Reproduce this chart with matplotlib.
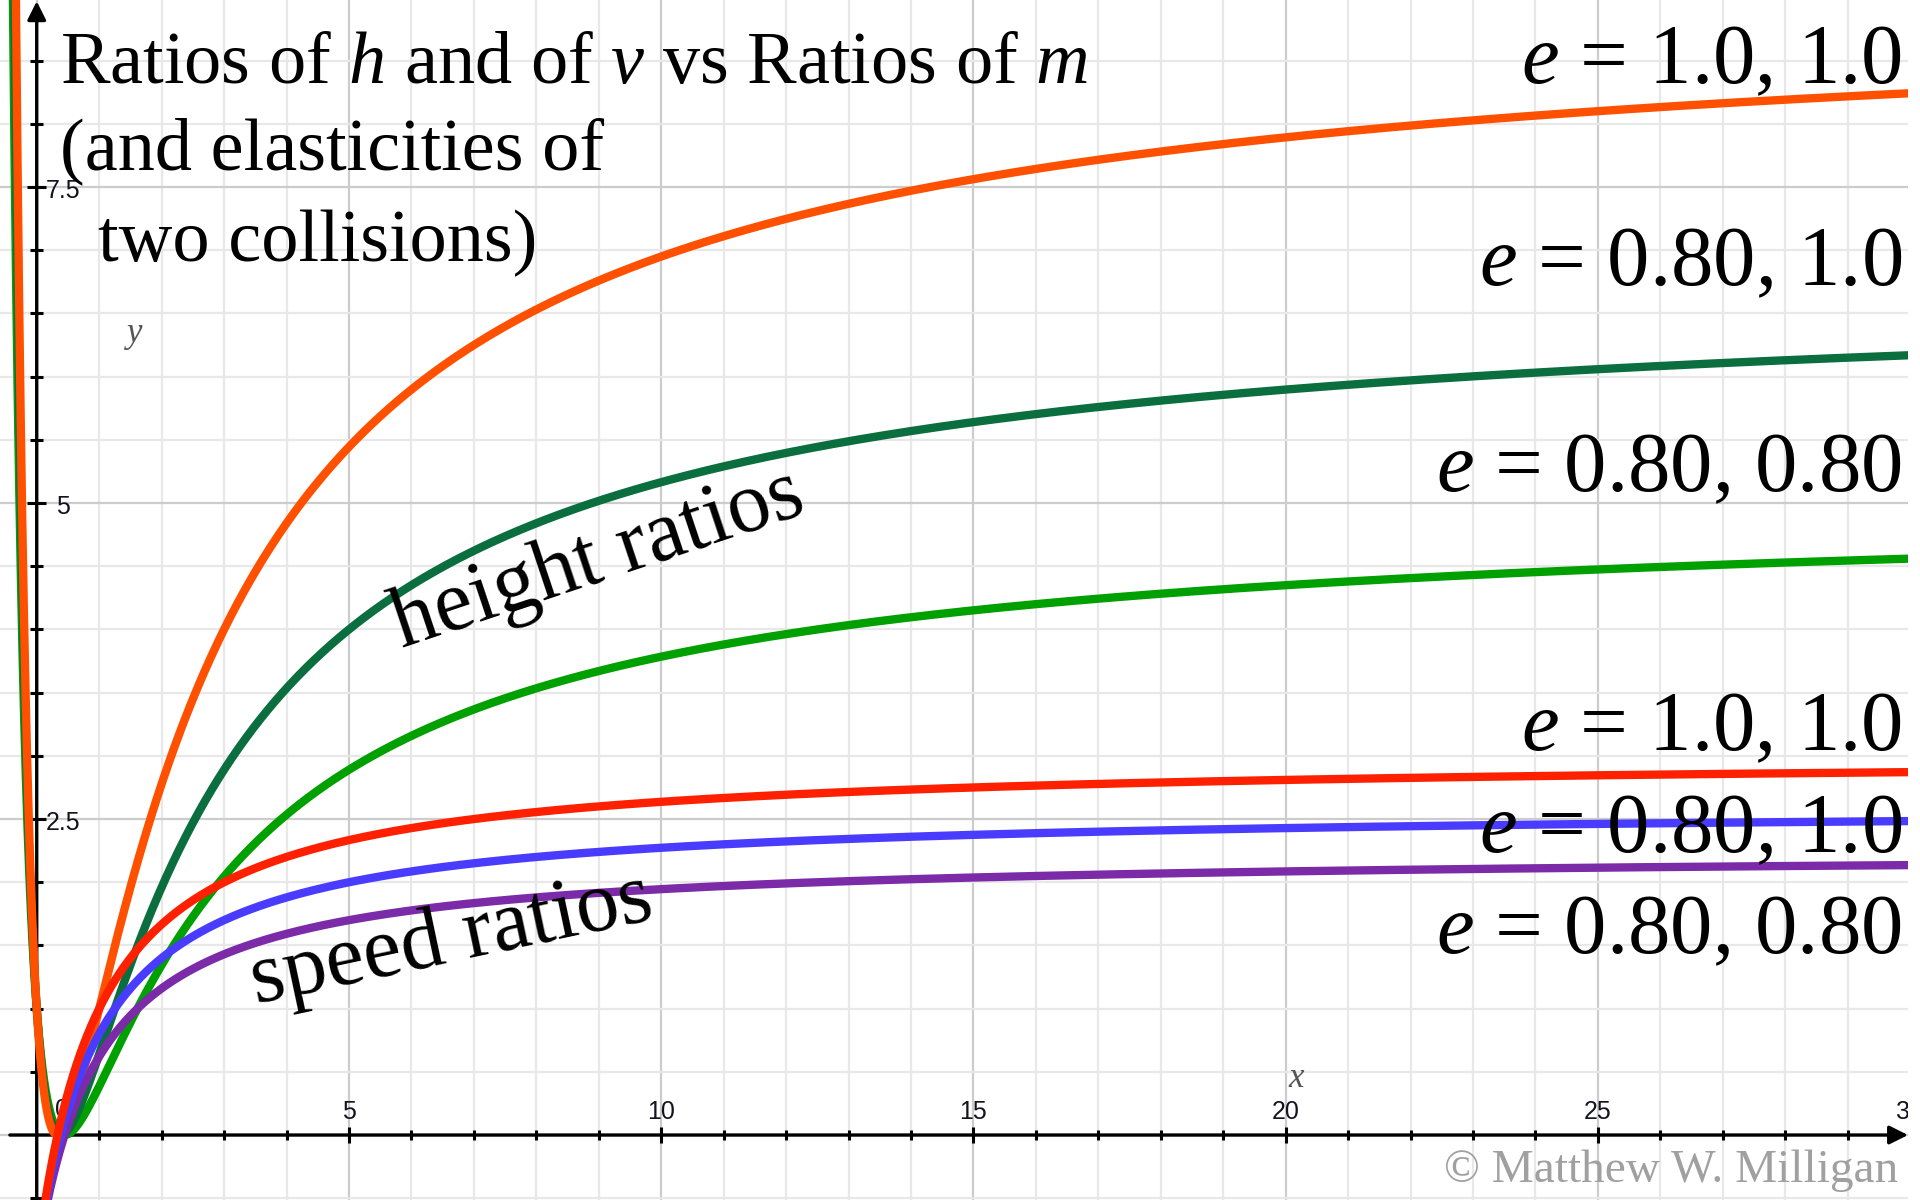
import numpy as np
import matplotlib.pyplot as plt

plt.rcParams['mathtext.fontset'] = 'custom'
plt.rcParams['mathtext.rm'] = 'Liberation Serif'
plt.rcParams['mathtext.it'] = 'Liberation Serif:italic'

# coefficients of restitution for the two collisions of each case
e_first = [1.0, 0.80, 0.80]
e_second = [1.0, 1.0, 0.80]
e_labels = ['1.0, 1.0', '0.80, 1.0', '0.80, 0.80']

height_colors = ['#ff5000', '#0b6e3f', '#00a000']
speed_colors = ['#ff2000', '#4a3cff', '#7b2aa8']

x_ticks = [0, 5, 10, 15, 20, 25, 30]
y_ticks = [2.5, 5, 7.5]

W, H = 1920, 1200


def px(x, y):
    # pixel position -> figure fraction
    return x / W, 1 - y / H


fig = plt.figure(figsize=(W / 100, H / 100), dpi=100)
ax = fig.add_axes([0, 0, 1908 / W, 1])
x0, x1 = -0.588, 29.965
y0, y1 = -0.514, 8.98
ax.set_xlim(x0, x1)
ax.set_ylim(y0, y1)
ax.axis('off')

# grid: minor every 1 / 0.5, major every 5 / 2.5
for gx in range(-1, 31):
    c = '#cccccc' if gx % 5 == 0 else '#e8e8e8'
    ax.axvline(gx, color=c, lw=1.6, zorder=0)
for gy in np.arange(-0.5, 9.0, 0.5):
    c = '#cccccc' if abs(gy / 2.5 - round(gy / 2.5)) < 1e-9 else '#e8e8e8'
    ax.axhline(gy, color=c, lw=1.6, zorder=0)

# axes with arrow heads
arrow = dict(arrowstyle='-|>', color='black', lw=2.4, mutation_scale=28,
             shrinkA=0, shrinkB=0)
ax.annotate('', xy=(x1, 0), xytext=(-0.43, 0), arrowprops=arrow, zorder=2)
ax.annotate('', xy=(0, y1 - 0.01), xytext=(0, y0), arrowprops=arrow, zorder=2)

# tick marks
xt = np.arange(1, 30)
xlen = np.where(xt % 5 == 0, 0.065, 0.04)
ax.vlines(xt, -xlen, xlen, color='black', lw=2.2, zorder=2)
yt = np.arange(-0.5, 9.0, 0.5)
yt = yt[yt != 0]
ylen = np.where(np.isclose(yt % 2.5, 0), 0.15, 0.1)
ax.hlines(yt, -ylen, ylen, color='black', lw=2.2, zorder=2)

# tick labels
tick_font = dict(fontsize=18, family='Liberation Sans', color='#141420')
for t in x_ticks[1:]:
    ax.text(t, 0.185, str(t), ha='center', va='center', clip_on=True,
            zorder=3, **tick_font)
for t in y_ticks:
    ax.text(0.42, t - 0.03, f'{t:g}', ha='center', va='center', zorder=3,
            **tick_font)
ax.text(0.41, 0.2, '0', ha='center', va='center', zorder=1, **tick_font)

fig.text(*px(1288, 1087), 'x', ha='left', va='baseline', fontsize=25,
         family='Liberation Serif', style='italic', color='#555555')
fig.text(*px(127, 342), 'y', ha='left', va='baseline', fontsize=25,
         family='Liberation Serif', style='italic', color='#555555')

# curves: speed ratio after both collisions, height ratio is its square
xs = np.concatenate([np.linspace(x0, 1.0, 4000), np.linspace(1.0, x1, 3000)])
for i in [2, 1, 0]:
    k = e_second[i] + (1 + e_second[i]) * e_first[i]
    v = (k * xs - 1) / (xs + 1)
    ax.plot(xs, v ** 2, color=height_colors[i], lw=6,
            solid_capstyle='round', zorder=4)
for i in [2, 1, 0]:
    k = e_second[i] + (1 + e_second[i]) * e_first[i]
    v = (k * xs - 1) / (xs + 1)
    ax.plot(xs, v, color=speed_colors[i], lw=6,
            solid_capstyle='round', zorder=5)

# labels
serif = 'Liberation Serif'
for lab, yb in zip(e_labels, [83, 285, 491]):
    fig.text(*px(1902, yb), r'$e$ = ' + lab, ha='right', va='baseline',
             fontsize=61, family=serif, zorder=6)
for lab, yb in zip(e_labels, [750, 852, 953]):
    fig.text(*px(1902, yb), r'$e$ = ' + lab, ha='right', va='baseline',
             fontsize=61, family=serif, zorder=6)

fig.text(*px(60, 83), r'Ratios of $h$ and of $v$ vs Ratios of $m$',
         ha='left', va='baseline', fontsize=53.5, family=serif, zorder=6)
fig.text(*px(60, 169), '(and elasticities of', ha='left', va='baseline',
         fontsize=53.5, family=serif, zorder=6)
fig.text(*px(98, 261), 'two collisions)', ha='left', va='baseline',
         fontsize=53.5, family=serif, zorder=6)

fig.text(*px(402, 648), 'height ratios', ha='left', va='baseline',
         rotation=18.5, rotation_mode='anchor', fontsize=62, family=serif,
         zorder=6)
fig.text(*px(256, 1003), 'speed ratios', ha='left', va='baseline',
         rotation=12, rotation_mode='anchor', fontsize=62, family=serif,
         zorder=6)

fig.text(*px(1898, 1182), '\u00a9 Matthew W. Milligan', ha='right',
         va='baseline', fontsize=34, family=serif, color='#a0a0a0', zorder=6)

fig.savefig('out.png', dpi=100, facecolor='white')
